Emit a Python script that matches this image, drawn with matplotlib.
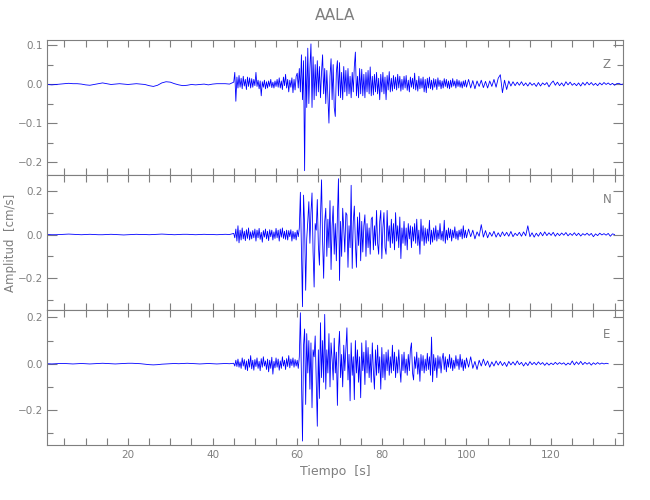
"""
plot.py
-------
Three-component velocity seismogram of station AALA (Z, N, E),
values read off the reference picture (amplitudes in 1e-3 cm/s).
"""

import numpy as np
import matplotlib
matplotlib.use("Agg")
import matplotlib.pyplot as plt
from matplotlib.ticker import MultipleLocator, FuncFormatter


# ────────────────────────────────────────────────────────────────────────────
# Data (1e-3 cm/s)
# quiet part : every 1.0 s from 1 s
# active part: every 0.25 s from 45 s to 99.75 s
# coda       : every 0.5 s from 100 s
# ────────────────────────────────────────────────────────────────────────────
components = ["Z", "N", "E"]

z_quiet = [-1, -2, -1, 0, 1, 2, 1, 1, 0, -2, -3, -1, 1, 3, 1, -1, 0, 1, 0, -1, 0, 1,
           0, -1, -4, -6, -3, 3, 6, 5, 1, -2, -4, -3, -1, -2, -1, 0, -2, 0, 1, 1, 1, 0]
z_active = [
    5, 30, -44, 18, -10, 22, -8, 15, -12, 20, -5, 12, -14, 18, -6, 16, -10, 14, -8, 12,
    -4, 30, -6, 10, -12, 8, -30, 6, -8, 10, -12, 6, -10, 8, -6, 12, -9, 5, -10, 8,
    -6, 12, -8, 16, -10, 8, -14, 18, -4, 25, -10, 12, -20, 10, -8, 16, -22, 12, -15, 20,
    28, -10, 40, -20, 75, -40, 60, -222, 70, -60, 92, -50, 40, 103, -60, 70, -40, 50, -30, 60,
    -20, 45, -35, 30, 75, -25, 40, -50, 35, -30, -100, 20, 65, -40, 50, -60, -83, 30, 60, -30,
    55, -35, 30, -40, 45, -20, 35, -30, 40, -25, 20, -35, 30, -20, 45, 82, -30, 20, -35, 40,
    -25, 38, -30, 25, -35, 30, -20, 35, -25, 44, -30, 20, -28, 25, -20, 30, -25, 15, -40, 25,
    -20, 30, -25, 18, -40, 22, -15, 32, -20, 15, -18, 22, -12, 18, -15, 25, -10, 20, -18, 12,
    -14, 20, -10, 22, -16, 10, -20, 18, -8, 15, -12, 28, -15, 10, -18, 20, -12, 14, -10, 18,
    -20, 12, -22, 15, -10, 18, -12, 10, -15, 14, -8, 12, -14, 16, -6, 10, -12, 8, -10, 14,
    -6, 12, -10, 8, -12, 10, -8, 14, -5, 8, -10, 12, -6, 9, -8, 6, -10, 8, -6, 10,
]
z_coda = [-8, 12, -10, 9, -12, 8, -6, 10, -9, 7, -10, 8, -6, 12, -8, 15, 24, -22, 10, -14,
          8, -5, 6, -4, 5, -3, 6, -4, 3, -5, 4, -3, 2, -6, 4, -5, 3, -2, 4, -7,
          2, 8, -3, 5, -4, 3, -5, 6, -2, 5, -3, 2, -4, 3, -5, 4, -3, 5, -2, 4,
          -3, 2, -4, 3, -2, 4, -1, 3, -2, 2, -3, 1, 2, -1, 0]

n_quiet = [0, -1, -1, 0, 1, 2, 1, 0, -1, 0, 1, 0, -1, -1, 0, 1, 0, -1, -2, -1, 0, 1,
           0, 0, -1, 0, 1, 2, 1, 0, -1, 0, 1, 1, 0, -1, 0, 1, 0, 0, -1, 0, 1, 0]
n_active = [
    5, -15, 25, -30, 40, -38, 20, -25, 30, -20, 15, -28, 22, -18, 30, -25, 12, -20, 18, -15,
    25, -30, 20, -15, 28, -22, 10, -35, 18, -12, 25, -20, 15, -28, 22, -10, 20, -25, 12, -18,
    28, -15, 20, -30, 25, -12, 30, -18, 15, -22, 20, -25, 18, -10, 22, -30, 15, -20, 10, -25,
    20, -10, 30, 193, -60, -330, 180, 40, -255, -20, 60, 150, -40, 100, 190, -80, -240, 50, 20, 160,
    -50, -140, 80, 250, -30, -200, 60, 120, -100, 70, -60, 155, -160, 40, 130, -90, 50, -120, 80, 255,
    -210, 60, -100, 120, 30, -80, 100, 90, -150, 40, -60, 225, -155, 60, 130, -40, -150, 80, -50, 100,
    -120, 60, -80, 40, 90, -100, 50, -60, 30, -90, 70, 80, -70, 40, -50, 110, -40, -90, 60, 110,
    -110, 30, 100, -60, -90, 110, -30, 40, -60, 70, -40, 50, -70, 100, -30, 40, -60, 80, -110, 30,
    -40, 60, -50, 30, -70, 50, -20, 40, -60, 35, -30, 50, -40, 70, -50, 20, -90, 70, -30, 40,
    -50, 30, -40, 25, -30, 65, -45, 20, -35, 30, -25, 40, -30, 20, -20, 50, -25, 15, -30, 65,
    -40, 20, -25, 30, -15, 25, -30, 20, -15, 35, -20, 15, -25, 20, -10, 25, -20, 40, -15, 20,
]
n_coda = [-15, 25, -10, 20, -20, 12, -8, 45, -12, 18, -15, 10, -8, 15, -12, 8, -10, 12, -6, 10,
          -8, 14, -10, 6, -5, 10, -8, 12, -6, 40, -10, 8, -12, 6, -8, 10, -6, 12, -5, 8,
          -4, 10, -8, 6, -5, 7, -3, 9, -6, 5, -4, 8, -5, 6, -7, 4, -3, 6, -4, 5,
          -10, 3, -5, 6, -2, 4, -3, 5, -8, 3, 0]

e_quiet = [0, -1, 0, 1, 1, 0, -1, 0, 1, 0, -1, 0, 1, 2, 1, 0, -1, 0, 1, 2, 2, 1,
           0, -2, -4, -5, -4, -2, -1, 0, 1, 0, 1, 2, 1, 0, -1, 0, 1, 0, -1, 0, 1, 0]
e_active = [
    2, -10, 15, -12, 20, -15, 8, -20, 25, -10, 18, -25, 12, -30, 20, -15, 35, -22, 15, -28,
    18, -12, 25, -20, 10, -30, 22, -15, 30, -10, 12, -25, 20, -35, 15, -20, 28, -45, 10, -18,
    25, -15, 20, -28, 12, -20, 30, -10, 15, -25, 22, -12, 35, -18, 20, -8, 25, -15, 18, -10,
    15, -20, 30, 220, -60, -334, 80, 150, -176, 130, -40, 100, -110, 90, -190, 60, 30, 120, -80, -270,
    60, -150, 177, -60, 100, -80, 213, -110, 60, -40, 130, -100, 90, 20, -70, 110, -40, 50, -180, 60,
    140, -60, 40, -100, 80, -30, 60, 155, -70, 40, -160, 90, -50, 30, -155, 100, -40, 60, -80, 30,
    -147, 90, -30, 50, -90, 100, -40, 70, -60, 40, -80, 90, -30, -110, 60, -50, 80, -40, 30, -110,
    70, -60, 40, -70, 50, -30, 60, -50, 30, -40, 80, -30, 50, -60, 30, -40, 60, -20, -80, 40,
    -30, 50, -40, 20, -50, 40, -30, 60, 90, -40, -70, 30, -20, 50, -45, 25, -76, 40, -30, 35,
    -40, 20, -30, 45, -25, 30, -50, 115, -78, 40, -30, 25, -60, 35, -20, 30, -40, 20, 45, -25,
    30, -35, 20, -15, 40, -20, 25, -30, 15, -20, 35, -10, 20, -25, 40, -15, 20, -30, 15, -20,
]
e_coda = [25, -15, 30, -20, 10, -25, 15, -10, 20, -8, 12, -15, 8, -10, 12, -6, 10, -8, 6, -12,
          10, -5, 8, -6, 12, -4, 6, -10, 5, -8, 9, -4, 6, -5, 8, -3, 5, -7, 4, -6,
          3, -4, 6, -3, 5, -2, 4, -6, 3, -4, 12, -5, 8, -3, 10, -4, 6, -2, 5, -6,
          4, -3, 5, -2, 3, -1, 2, 0]

y_limits = [(-0.233, 0.113), (-0.345, 0.272), (-0.351, 0.232)]
y_major = [0.1, 0.2, 0.2]
y_minor = [0.05, 0.1, 0.1]


def build_trace(quiet, active, coda):
    """Concatenate the three sampled segments into (time, amplitude in cm/s)."""
    t = np.concatenate([
        1.0 + 1.0 * np.arange(len(quiet)),
        45.0 + 0.25 * np.arange(len(active)),
        100.0 + 0.5 * np.arange(len(coda)),
    ])
    a = np.array(quiet + active + coda, dtype=float) * 1e-3
    return t, a


traces = [
    build_trace(z_quiet, z_active, z_coda),
    build_trace(n_quiet, n_active, n_coda),
    build_trace(e_quiet, e_active, e_coda),
]

# ────────────────────────────────────────────────────────────────────────────
# Figure
# ────────────────────────────────────────────────────────────────────────────
GREY = "#7f7f7f"
plt.rcParams["font.family"] = ["DejaVu Sans"]

fig = plt.figure(figsize=(6.5, 5.0), dpi=100)
left, width = 0.0725, 0.886
bottoms = [0.65, 0.38, 0.11]
height = 0.27


def minus_fmt(v, _pos):
    return f"{v:.1f}".replace("-", "\u2212")


axes = []
for i, (comp, (t, a)) in enumerate(zip(components, traces)):
    ax = fig.add_axes([left, bottoms[i], width, height])
    ax.plot(t, a, color="#0000ff", lw=0.6)
    ax.set_xlim(0.9, 137.0)
    ax.set_ylim(*y_limits[i])

    ax.xaxis.set_major_locator(MultipleLocator(20))
    ax.xaxis.set_minor_locator(MultipleLocator(5))
    ax.yaxis.set_major_locator(MultipleLocator(y_major[i]))
    ax.yaxis.set_minor_locator(MultipleLocator(y_minor[i]))
    ax.yaxis.set_major_formatter(FuncFormatter(minus_fmt))

    ax.tick_params(which="both", direction="in", top=True, right=True,
                   colors=GREY, labelcolor=GREY, labelsize=7.5, width=0.8)
    ax.tick_params(axis="x", which="both", length=5)
    ax.tick_params(axis="y", which="major", length=7, pad=3)
    ax.tick_params(axis="y", which="minor", length=4)
    if i < 2:
        ax.tick_params(axis="x", labelbottom=False)
    for s in ax.spines.values():
        s.set_color(GREY)
        s.set_linewidth(0.8)

    ax.text(0.972, 0.82, comp, transform=ax.transAxes, color=GREY,
            fontsize=8.5, ha="center", va="center")
    axes.append(ax)

fig.text(0.515, 0.968, "AALA", color=GREY, fontsize=11, ha="center", va="center")
axes[2].set_xlabel("Tiempo  [s]", color=GREY, fontsize=9, labelpad=4)
fig.text(0.016, 0.515, "Amplitud  [cm/s]", color=GREY, fontsize=8.5,
         rotation=90, ha="center", va="center")

fig.savefig("out.png", dpi=100)
